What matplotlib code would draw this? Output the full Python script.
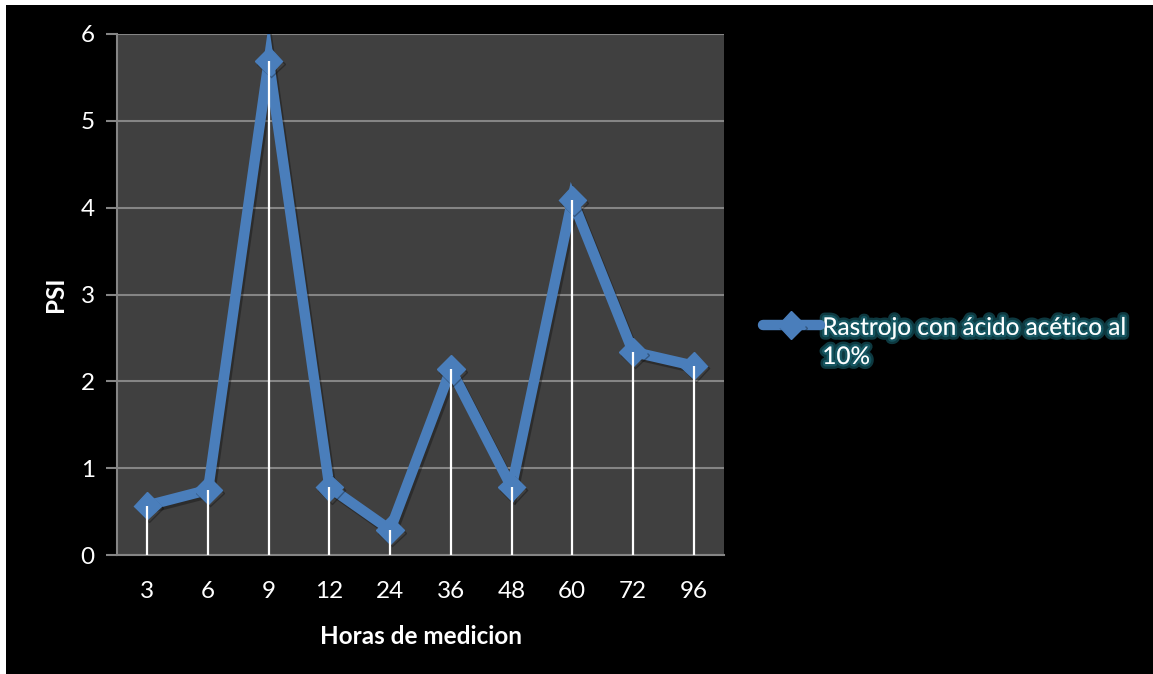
import textwrap
import numpy as np
import matplotlib
matplotlib.use('Agg')
import matplotlib.pyplot as plt
import matplotlib.patheffects as pe
from matplotlib.patches import Rectangle

plt.rcParams['font.family'] = ['Lato', 'DejaVu Sans']

# data
hours = ['3', '6', '9', '12', '24', '36', '48', '60', '72', '96']
psi = [0.57, 0.75, 5.69, 0.78, 0.29, 2.14, 0.78, 4.09, 2.34, 2.18]
series_name = 'Rastrojo con ácido acético al 10%'

blue = '#4A7EBB'
grid_c = '#858585'

fig = plt.figure(figsize=(11.53, 6.74), dpi=100)
fig.patch.set_facecolor('white')
# black chart area (thin white border on top and left)
fig.add_artist(Rectangle((6 / 1153, 0), 1, (674 - 5) / 674,
                         transform=fig.transFigure, facecolor='black',
                         edgecolor='none', zorder=0))

ax = fig.add_axes([117 / 1153, (674 - 555) / 674, (724 - 117) / 1153, (555 - 34) / 674])
ax.set_facecolor('#404040')

x = np.arange(len(hours))
ax.set_xlim(-0.5, len(hours) - 0.5)
ax.set_ylim(0, 6)
ax.set_yticks(range(0, 7))
ax.set_xticks(x)
ax.set_xticklabels(hours)

ax.grid(axis='y', color=grid_c, lw=1.5)
ax.set_axisbelow(True)

shadow = [pe.SimpleLineShadow(offset=(1.5, -2), shadow_color='black', alpha=0.3), pe.Normal()]
ax.plot(x, psi, color=blue, lw=7.5, marker='D', markersize=14,
        markerfacecolor=blue, markeredgecolor=blue, solid_joinstyle='miter',
        zorder=3, path_effects=shadow)
ax.vlines(x, 0, psi, color='white', lw=1.6, zorder=4)

for s in ['top', 'right']:
    ax.spines[s].set_visible(False)
for s in ['left', 'bottom']:
    ax.spines[s].set_color(grid_c)
    ax.spines[s].set_linewidth(1.5)

ax.tick_params(axis='y', colors=grid_c, length=8, width=1.5, labelcolor='white',
               labelsize=17.5, pad=8)
ax.tick_params(axis='x', length=0, labelcolor='white', labelsize=17.5, pad=19)

ax.set_xlabel('Horas de medicion', color='white', fontsize=17.5, fontweight='bold', labelpad=16)
ax.set_ylabel('PSI', color='white', fontsize=17.5, fontweight='bold', labelpad=10)

# legend entry (handle aligned with the first text line, as in the original)
ax.plot([1.065, 1.158], [0.4415, 0.4415], transform=ax.transAxes, clip_on=False,
        color=blue, lw=7.5, solid_capstyle='round', zorder=5)
ax.plot([1.111], [0.4415], transform=ax.transAxes, clip_on=False, marker='D',
        markersize=14, color=blue, path_effects=shadow, zorder=6)
glow = [pe.withStroke(linewidth=7, foreground='#1f7f90', alpha=0.45),
        pe.withStroke(linewidth=3.5, foreground='#1d6b78', alpha=0.6)]
ax.text(1.162, 0.3666, textwrap.fill(series_name, 29), transform=ax.transAxes,
        color='white', fontsize=17.5, va='baseline', ha='left', linespacing=1.48,
        path_effects=glow)

fig.savefig('out.png', dpi=100, facecolor=fig.get_facecolor())
